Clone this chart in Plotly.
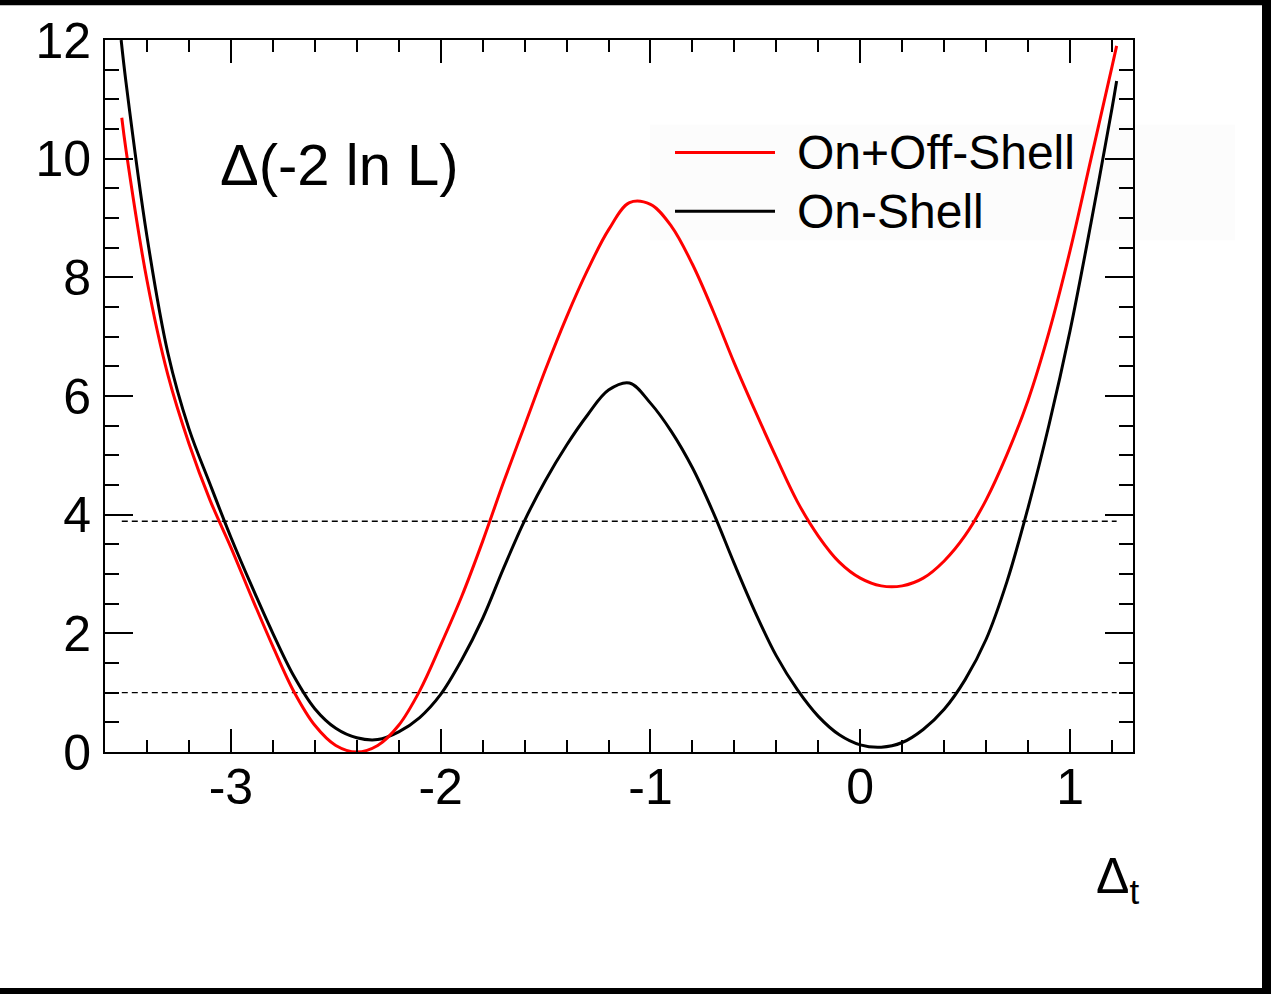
import plotly.graph_objects as go

# ---- data ----
on_off_x = [-3.52, -3.5, -3.4, -3.3, -3.2, -3.1, -3.0, -2.9, -2.8, -2.7, -2.6, -2.5, -2.4, -2.3,
            -2.2, -2.1, -2.0, -1.9, -1.8, -1.7, -1.6, -1.5, -1.4, -1.3, -1.2, -1.1, -1.0, -0.9,
            -0.8, -0.7, -0.6, -0.5, -0.4, -0.3, -0.2, -0.1, 0.0, 0.1, 0.2, 0.3, 0.4, 0.5, 0.6,
            0.7, 0.8, 0.9, 1.0, 1.1, 1.2, 1.222]
on_off_y = [10.69, 10.15, 7.95, 6.35, 5.20, 4.25, 3.45, 2.60, 1.78, 1.02, 0.45, 0.11, 0.0, 0.11,
            0.45, 1.03, 1.80, 2.62, 3.55, 4.55, 5.50, 6.45, 7.33, 8.12, 8.80, 9.26, 9.23, 8.86,
            8.22, 7.42, 6.55, 5.74, 4.96, 4.22, 3.64, 3.20, 2.93, 2.80, 2.80, 2.93, 3.22, 3.65, 4.25,
            5.02, 5.93, 7.08, 8.45, 10.0, 11.55, 11.90]

on_x = [-3.523, -3.5, -3.4, -3.3, -3.2, -3.1, -3.0, -2.9, -2.8, -2.7, -2.6, -2.5, -2.4, -2.3,
        -2.2, -2.1, -2.0, -1.9, -1.8, -1.7, -1.6, -1.5, -1.4, -1.3, -1.2, -1.1, -1.0, -0.9,
        -0.8, -0.7, -0.6, -0.5, -0.4, -0.3, -0.2, -0.1, 0.0, 0.1, 0.2, 0.3, 0.4, 0.5, 0.6,
        0.7, 0.8, 0.9, 1.0, 1.1, 1.2, 1.222]
on_y = [12.0, 11.29, 8.69, 6.72, 5.45, 4.52, 3.62, 2.79, 2.00, 1.28, 0.73, 0.40, 0.24, 0.21,
        0.34, 0.58, 0.97, 1.55, 2.25, 3.10, 3.90, 4.58, 5.17, 5.68, 6.10, 6.22, 5.88, 5.40,
        4.79, 4.03, 3.17, 2.35, 1.62, 1.05, 0.60, 0.29, 0.12, 0.08, 0.16, 0.38, 0.72, 1.22, 1.90,
        2.88, 4.12, 5.52, 7.10, 8.92, 10.85, 11.31]

ref_levels = [1.0, 3.89]
ref_x = [-3.52, 1.222]

series_names = ["On+Off-Shell", "On-Shell"]
x_ticks = [-3, -2, -1, 0, 1]
y_ticks = [0, 2, 4, 6, 8, 10, 12]

FONT = "Liberation Sans, Arial, Helvetica, sans-serif"

fig = go.Figure()
for lv in ref_levels:
    fig.add_trace(go.Scatter(x=ref_x, y=[lv, lv], mode="lines",
                             line=dict(color="black", width=1.4, dash="6px,4px"),
                             showlegend=False, hoverinfo="skip"))
fig.add_trace(go.Scatter(x=on_x, y=on_y, mode="lines", name=series_names[1],
                         line=dict(color="black", width=3, shape="spline", smoothing=1.0),
                         showlegend=False))
fig.add_trace(go.Scatter(x=on_off_x, y=on_off_y, mode="lines", name=series_names[0],
                         line=dict(color="#ff0000", width=3, shape="spline", smoothing=1.0),
                         showlegend=False))

L, R, T, B = 105, 1133, 37, 752
def px(p):
    return (p - L) / (R - L)
def py(p):
    return (B - p) / (B - T)

shapes = [
    # faint legend background
    dict(type="rect", xref="paper", yref="paper", x0=px(650), x1=px(1235), y0=py(238), y1=py(122),
         fillcolor="#fcfcfc", line=dict(width=0), layer="below"),
    # legend line samples
    dict(type="line", xref="paper", yref="paper", x0=px(675), x1=px(775), y0=py(150), y1=py(150),
         line=dict(color="#ff0000", width=3)),
    dict(type="line", xref="paper", yref="paper", x0=px(675), x1=px(775), y0=py(209), y1=py(209),
         line=dict(color="black", width=3)),
    # outer black frame bits (top, right, bottom)
    dict(type="rect", xref="paper", yref="paper", x0=px(-5), x1=px(1280), y0=py(2), y1=py(-5),
         fillcolor="black", line=dict(width=0)),
    dict(type="rect", xref="paper", yref="paper", x0=px(1262), x1=px(1280), y0=py(1000), y1=py(-5),
         fillcolor="black", line=dict(width=0)),
    dict(type="rect", xref="paper", yref="paper", x0=px(-5), x1=px(1280), y0=py(1000), y1=py(989),
         fillcolor="black", line=dict(width=0)),
]

annotations = [
    dict(text=series_names[0], xref="paper", yref="paper", x=px(795), y=py(150),
         xanchor="left", yanchor="middle", showarrow=False,
         font=dict(family=FONT, size=48, color="black")),
    dict(text=series_names[1], xref="paper", yref="paper", x=px(795), y=py(209),
         xanchor="left", yanchor="middle", showarrow=False,
         font=dict(family=FONT, size=48, color="black")),
    dict(text="Δ(-2 ln L)", xref="paper", yref="paper", x=px(218), y=py(162),
         xanchor="left", yanchor="middle", showarrow=False,
         font=dict(family=FONT, size=58, color="black")),
    dict(text="Δ<sub>t</sub>", xref="paper", yref="paper", x=px(1094), y=py(880),
         xanchor="left", yanchor="middle", showarrow=False,
         font=dict(family=FONT, size=50, color="black")),
]

fig.update_layout(
    width=1271, height=994,
    margin=dict(l=L, r=1271 - R, t=T, b=994 - B, pad=0),
    paper_bgcolor="white", plot_bgcolor="rgba(0,0,0,0)",
    shapes=shapes, annotations=annotations,
    font=dict(family=FONT, color="black"),
)
fig.update_xaxes(
    range=[-3.6, 1.3], tickmode="array", tickvals=x_ticks, ticktext=[str(v) for v in x_ticks],
    ticks="inside", ticklen=23, tickwidth=2, tickcolor="black",
    minor=dict(dtick=0.2, tick0=0, ticks="inside", ticklen=12, tickwidth=2, tickcolor="black", showgrid=False),
    showline=True, linewidth=2, linecolor="black", mirror="ticks",
    showgrid=False, zeroline=False, tickfont=dict(family=FONT, size=50, color="black"),
    ticklabelstandoff=-10,
)
fig.update_yaxes(
    range=[0, 12], tickmode="array", tickvals=y_ticks, ticktext=[str(v) for v in y_ticks],
    ticks="inside", ticklen=28, tickwidth=2, tickcolor="black",
    minor=dict(dtick=0.5, tick0=0, ticks="inside", ticklen=14, tickwidth=2, tickcolor="black", showgrid=False),
    showline=True, linewidth=2, linecolor="black", mirror="ticks",
    showgrid=False, zeroline=False, tickfont=dict(family=FONT, size=50, color="black"),
    ticklabelstandoff=2,
)

fig.write_html("out.html")
